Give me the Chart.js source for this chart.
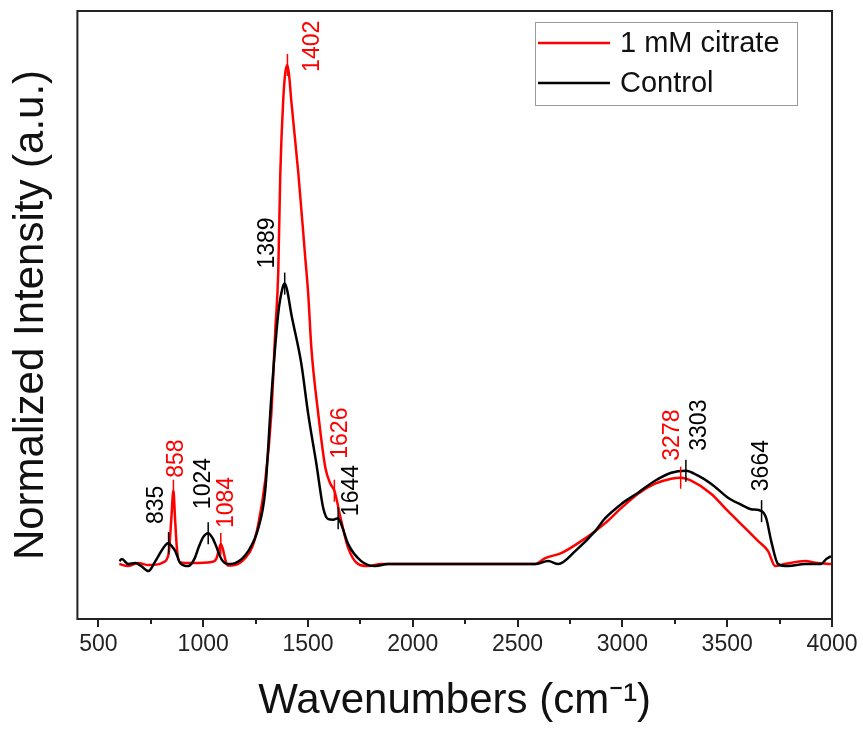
<!DOCTYPE html>
<html>
<head>
<meta charset="utf-8">
<script src="https://cdn.jsdelivr.net/npm/chart.js@4.4.1/dist/chart.umd.min.js"></script>
<style>
  body { margin: 0; background: #fff; }
  #wrap { width: 863px; height: 733px; position: relative; }
</style>
</head>
<body>
<div id="wrap"><canvas id="spectra"></canvas></div>
<script>
// spectra (wavenumber in cm-1, normalized intensity)
const citrateX = [600, 640, 690, 740, 790, 812, 835, 848, 858, 866, 875, 888, 950, 1040, 1062, 1076, 1084, 1094, 1105, 1118, 1150, 1200, 1235, 1263, 1296, 1325, 1344, 1358, 1368, 1382, 1392, 1402, 1411, 1420, 1454, 1487, 1501, 1516, 1549, 1583, 1607, 1626, 1659, 1692, 1740, 1788, 1850, 2000, 2300, 2584, 2632, 2708, 2803, 2870, 2918, 2994, 3075, 3156, 3233, 3278, 3328, 3423, 3504, 3586, 3648, 3695, 3729, 3776, 3872, 3930, 3995];
const citrateY = [0, -0.004, 0.002, -0.002, 0, 0.004, 0.02, 0.09, 0.147, 0.09, 0.03, 0.004, 0.002, 0.004, 0.01, 0.03, 0.04, 0.03, 0.01, -0.003, -0.002, 0.012, 0.035, 0.08, 0.167, 0.30, 0.468, 0.582, 0.783, 0.93, 0.985, 1.0, 0.975, 0.93, 0.783, 0.614, 0.542, 0.434, 0.301, 0.193, 0.161, 0.147, 0.086, 0.032, 0, -0.004, 0, 0, 0, 0, 0.012, 0.022, 0.046, 0.066, 0.082, 0.112, 0.141, 0.161, 0.171, 0.173, 0.167, 0.141, 0.106, 0.072, 0.046, 0.026, -0.004, 0, 0.006, 0.002, 0];

const controlX = [600, 612, 643, 676, 705, 738, 772, 800, 820, 835, 850, 867, 891, 929, 960, 977, 1000, 1024, 1045, 1058, 1087, 1120, 1153, 1215, 1263, 1296, 1325, 1358, 1378, 1389, 1400, 1420, 1468, 1501, 1540, 1573, 1597, 1620, 1644, 1662, 1692, 1754, 1821, 1883, 2200, 2584, 2646, 2694, 2775, 2870, 2918, 2994, 3075, 3156, 3233, 3303, 3361, 3423, 3504, 3561, 3614, 3664, 3686, 3710, 3743, 3791, 3872, 3948, 3972, 3995];
const controlY = [0.006, 0.010, 0, 0.002, -0.004, -0.014, 0.006, 0.026, 0.038, 0.042, 0.036, 0.026, 0.002, -0.004, 0.012, 0.032, 0.054, 0.062, 0.052, 0.040, 0.010, 0, 0.002, 0.026, 0.072, 0.147, 0.333, 0.502, 0.552, 0.562, 0.550, 0.502, 0.402, 0.301, 0.201, 0.112, 0.090, 0.089, 0.092, 0.076, 0.040, 0.006, -0.004, 0, 0, 0, 0.006, 0, 0.026, 0.066, 0.092, 0.120, 0.143, 0.167, 0.183, 0.187, 0.177, 0.161, 0.133, 0.120, 0.110, 0.106, 0.092, 0.046, 0, -0.004, 0, 0, 0.010, 0.016];

const seriesNames = ['1 mM citrate', 'Control'];
const seriesColors = ['#ff0000', '#000000'];

// labelled peaks: position and which series it belongs to (0 citrate, 1 control)
const peakPos = [835, 858, 1024, 1084, 1389, 1402, 1626, 1644, 3278, 3303, 3664];
const peakSeries = [1, 0, 1, 0, 1, 0, 0, 1, 0, 1, 1];

const xTicks = [500, 1000, 1500, 2000, 2500, 3000, 3500, 4000];
const xMinorTicks = [750, 1250, 1750, 2250, 2750, 3250, 3750];

// label placement next to each peak marker (pixels)
const labelDx = [-12, 3, -5, 6, -17, 25, 6, 14, -8, 14, 0];
const labelDy = [-8, -2, -13, -5, -4, 18, -21, 9, -6, -9, -9];

const FONT = "'Liberation Sans', Arial, sans-serif";

function valueAt(xs, ys, v) {
  for (let i = 1; i < xs.length; i++) {
    if (v <= xs[i]) {
      const t = (v - xs[i - 1]) / (xs[i] - xs[i - 1]);
      return ys[i - 1] + t * (ys[i] - ys[i - 1]);
    }
  }
  return ys[ys.length - 1];
}

const curves = [[citrateX, citrateY], [controlX, controlY]];

const decor = {
  id: 'decor',
  afterDatasetsDraw(chart) {
    const {ctx, chartArea: a, scales: {x, y}} = chart;
    ctx.save();

    // frame
    ctx.strokeStyle = '#222';
    ctx.lineWidth = 2;
    ctx.strokeRect(a.left, a.top, a.right - a.left, a.bottom - a.top);

    // bottom ticks
    ctx.beginPath();
    xTicks.forEach(v => {
      const px = Math.round(x.getPixelForValue(v));
      ctx.moveTo(px, a.bottom); ctx.lineTo(px, a.bottom + 8);
    });
    xMinorTicks.forEach(v => {
      const px = Math.round(x.getPixelForValue(v));
      ctx.moveTo(px, a.bottom); ctx.lineTo(px, a.bottom + 5);
    });
    ctx.stroke();

    // peak markers and labels
    ctx.font = '23px ' + FONT;
    ctx.textAlign = 'left';
    ctx.textBaseline = 'middle';
    peakPos.forEach((p, i) => {
      const s = peakSeries[i];
      const [xs, ys] = curves[s];
      const px = x.getPixelForValue(p);
      const py = y.getPixelForValue(valueAt(xs, ys, p));
      ctx.strokeStyle = seriesColors[s];
      ctx.fillStyle = seriesColors[s];
      ctx.lineWidth = 1.5;
      ctx.beginPath();
      ctx.moveTo(px, py - 11); ctx.lineTo(px, py + 11);
      ctx.stroke();
      ctx.save();
      ctx.translate(px + labelDx[i], py - 11 + labelDy[i]);
      ctx.rotate(-Math.PI / 2);
      ctx.fillText(String(p), 0, 0);
      ctx.restore();
    });

    // legend, in series order
    const lx = a.right - 297, ly = a.top + 11, lw = 262, lh = 83;
    ctx.strokeStyle = '#9a9a9a';
    ctx.lineWidth = 1;
    ctx.strokeRect(lx + 0.5, ly + 0.5, lw, lh);
    ctx.font = '29px ' + FONT;
    ctx.textBaseline = 'middle';
    seriesNames.forEach((name, i) => {
      const yy = ly + 21 + i * 40;
      ctx.strokeStyle = seriesColors[i];
      ctx.lineWidth = 2.5;
      ctx.beginPath();
      ctx.moveTo(lx + 3, yy); ctx.lineTo(lx + 75, yy);
      ctx.stroke();
      ctx.fillStyle = '#111';
      ctx.fillText(name, lx + 85, yy + 1);
    });
    ctx.restore();
  }
};

// control listed first so that it is drawn on top of the citrate trace
new Chart(document.getElementById('spectra'), {
  type: 'line',
  data: {
    datasets: curves.map(([xs, ys], i) => ({
      label: seriesNames[i],
      data: xs.map((v, j) => ({x: v, y: ys[j]})),
      borderColor: seriesColors[i],
      borderWidth: 2.5,
      pointRadius: 0,
      fill: false,
      cubicInterpolationMode: 'monotone'
    })).reverse()
  },
  options: {
    responsive: true,
    maintainAspectRatio: false,
    animation: false,
    layout: {padding: {left: 6, top: 11, right: 31, bottom: 0}},
    plugins: {legend: {display: false}, tooltip: {enabled: false}},
    scales: {
      x: {
        type: 'linear', min: 400, max: 4000,
        afterBuildTicks: s => { s.ticks = xTicks.map(v => ({value: v})); },
        ticks: {color: '#222', font: {family: FONT, size: 23}, padding: 4, maxRotation: 0, autoSkip: false,
                callback: v => String(v)},
        grid: {drawOnChartArea: false, drawTicks: true, tickLength: 8, tickColor: 'rgba(0,0,0,0)'},
        border: {display: false},
        title: {display: true, text: 'Wavenumbers (cm⁻¹)', color: '#111',
                font: {family: FONT, size: 42}, padding: {top: 14, bottom: 6}}
      },
      y: {
        min: -0.11, max: 1.108,
        ticks: {display: false},
        grid: {display: false},
        border: {display: false},
        title: {display: true, text: 'Normalized Intensity (a.u.)', color: '#111',
                font: {family: FONT, size: 42}, padding: {top: 0, bottom: 13}}
      }
    }
  },
  plugins: [decor]
});
</script>
</body>
</html>
